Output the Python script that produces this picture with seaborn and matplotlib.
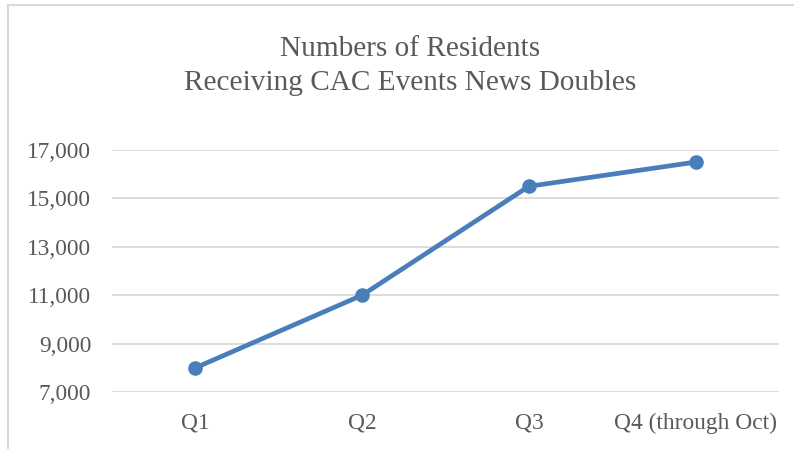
import matplotlib
matplotlib.use("Agg")
import matplotlib.pyplot as plt
from matplotlib.lines import Line2D
from matplotlib.ticker import FuncFormatter
import seaborn as sns
import pandas as pd

quarters = ["Q1", "Q2", "Q3", "Q4 (through Oct)"]
residents = [8000, 11000, 15500, 16500]
y_ticks = [7000, 9000, 11000, 13000, 15000, 17000]
title_lines = ["Numbers of Residents", "Receiving CAC Events News Doubles"]

sns.set_style("white")
plt.rcParams['font.family'] = ['Liberation Serif', 'DejaVu Serif']

text_color = "#595959"
grid_color = "#d9d9d9"
line_color = "#4a7ebb"

fig = plt.figure(figsize=(7.94, 4.49), dpi=100)
ax = fig.add_axes([112/794, 1 - 392/449, (779 - 112)/794, (392 - 150)/449])

df = pd.DataFrame({"quarter": quarters, "residents": residents})
sns.lineplot(data=df, x="quarter", y="residents", ax=ax, color=line_color,
             linewidth=3.4, marker="o", markersize=10.5, markeredgewidth=0,
             sort=False)

ax.set_xlim(-0.5, 3.5)
ax.set_ylim(7000, 17000)
ax.set_yticks(y_ticks)
ax.yaxis.set_major_formatter(FuncFormatter(lambda v, p: f"{int(v):,}"))
ax.grid(axis="y", color=grid_color, linewidth=1.3)
ax.grid(axis="x", visible=False)
ax.set_axisbelow(True)
for s in ax.spines.values():
    s.set_visible(False)
ax.tick_params(axis="both", length=0, labelsize=16.8, colors=text_color)
ax.tick_params(axis="y", pad=15)
ax.tick_params(axis="x", pad=15)
ax.set_xlabel("")
ax.set_ylabel("")

fig.text(410/794, 1 - 66/449, "\n".join(title_lines), ha="center", va="center",
         fontsize=21.1, color=text_color, linespacing=1.35)

# outer chart border (left and top visible)
fig.add_artist(Line2D([8/794, 8/794], [0, 1 - 5/449], transform=fig.transFigure,
                      color=grid_color, linewidth=1.5))
fig.add_artist(Line2D([8/794, 1], [1 - 5/449, 1 - 5/449], transform=fig.transFigure,
                      color=grid_color, linewidth=1.5))

fig.savefig("out.png", dpi=100)
